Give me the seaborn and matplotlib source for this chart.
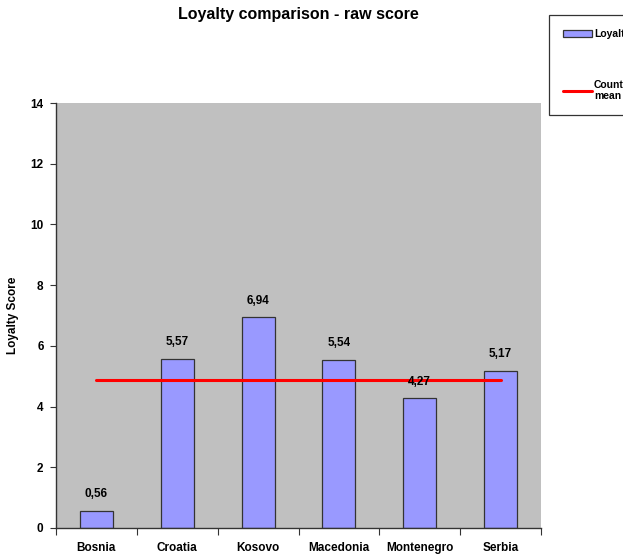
import matplotlib
matplotlib.use("Agg")
import matplotlib.pyplot as plt
import seaborn as sns
import pandas as pd
from matplotlib.patches import Patch
from matplotlib.lines import Line2D

# Data
countries = ['Bosnia', 'Croatia', 'Kosovo', 'Macedonia', 'Montenegro', 'Serbia']
loyalty = [0.56, 5.57, 6.94, 5.54, 4.27, 5.17]
country_mean = 4.88
y_ticks = [0, 2, 4, 6, 8, 10, 12, 14]

df = pd.DataFrame({'country': countries, 'loyalty': loyalty})

sns.set_theme(style="white")
plt.rcParams['font.family'] = ['Liberation Sans', 'DejaVu Sans']
plt.rcParams['text.color'] = 'black'

fig = plt.figure(figsize=(6.23, 5.56), dpi=100)
ax = fig.add_axes([56 / 623, 1 - 528 / 556, 485 / 623, 425 / 556])
ax.set_facecolor('#C0C0C0')

sns.barplot(data=df, x='country', y='loyalty', color='#9999FF', width=0.41,
            edgecolor='#333333', linewidth=0.9, saturation=1, ax=ax)

# Country mean line from first to last category
ax.plot([0, len(countries) - 1], [country_mean, country_mean], color='#FF0000', lw=2.2, zorder=5)

# Value labels with comma decimals
for i, v in enumerate(loyalty):
    ax.text(i, v + 0.35, f"{v:.2f}".replace('.', ','), ha='center', va='bottom',
            fontsize=8.5, fontweight='bold', color='black', zorder=6)

ax.set_xlim(-0.5, len(countries) - 0.5)
ax.set_ylim(0, 14)
ax.set_yticks(y_ticks)
ax.set_yticklabels([str(t) for t in y_ticks], fontsize=8.5, fontweight='bold', color='black')
ax.set_xticks(range(len(countries)))
ax.set_xticklabels(countries, fontsize=8.5, fontweight='bold', color='black')
ax.set_xticks([i - 0.5 for i in range(len(countries) + 1)], minor=True)
ax.tick_params(axis='x', which='major', length=0, pad=10)
ax.tick_params(axis='x', which='minor', length=5, width=0.8, color='#333333', direction='out', bottom=True)
ax.tick_params(axis='y', length=4, width=0.8, color='#333333', direction='out', left=True, pad=5)
ax.set_xlabel('')
ax.set_ylabel('Loyalty Score', fontsize=8.5, fontweight='bold', color='black', labelpad=8)

for s in ['top', 'right']:
    ax.spines[s].set_visible(False)
for s in ['left', 'bottom']:
    ax.spines[s].set_color('#333333')
    ax.spines[s].set_linewidth(1.0)

fig.text(298 / 623, 1 - 14 / 556, 'Loyalty comparison - raw score', ha='center', va='center',
         fontsize=11.5, fontweight='bold', color='black')

handles = [Patch(facecolor='#9999FF', edgecolor='#333333', linewidth=0.9),
           Line2D([0], [0], color='#FF0000', lw=2.2)]
leg = fig.legend(handles, ['Loyalty', 'Country\nmean'], loc='upper left',
                 bbox_to_anchor=(549 / 623, 1 - 15 / 556), frameon=True, fancybox=False,
                 prop={'size': 7.5, 'weight': 'bold'}, labelspacing=3.9, handlelength=2.8,
                 handletextpad=0.15, borderpad=1.35, borderaxespad=0)
leg.get_frame().set_edgecolor('black')
leg.get_frame().set_linewidth(0.9)

fig.savefig('out.png', dpi=100)
